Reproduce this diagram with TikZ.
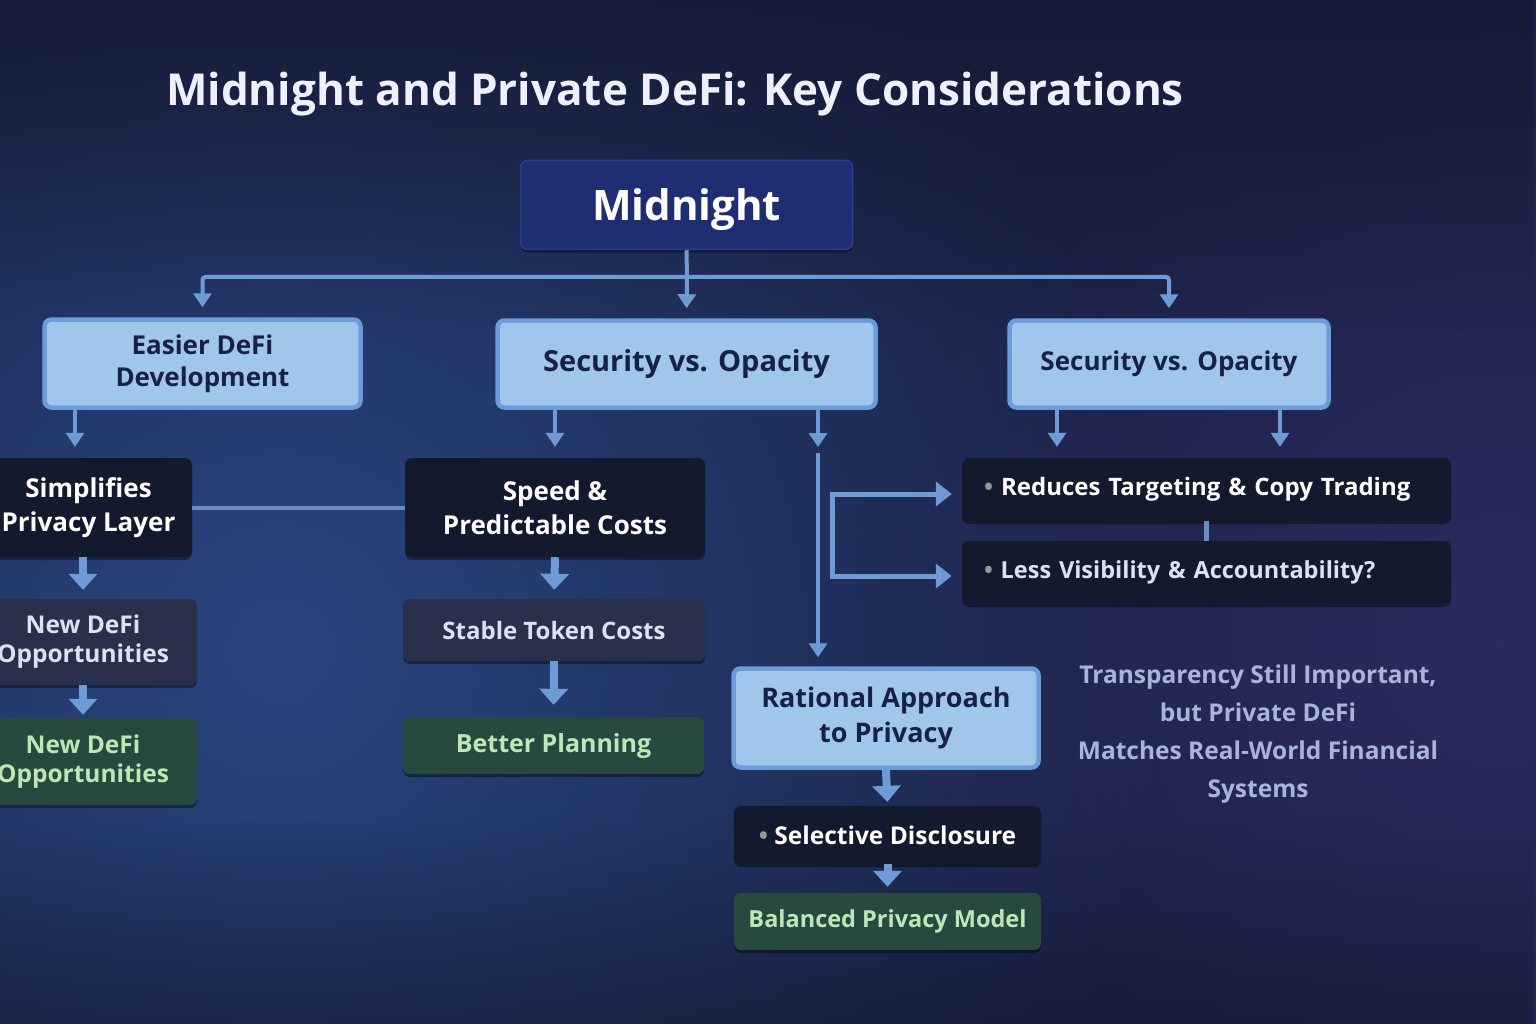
\documentclass[tikz,border=0pt]{standalone}
\usepackage{fontspec}
\setmainfont{Open Sans}
\usetikzlibrary{arrows.meta,shadows,fadings}
\definecolor{bgbase}{HTML}{1B2246}
\definecolor{bgblue}{HTML}{2A4A86}
\definecolor{bgpurple}{HTML}{2E2C64}
\definecolor{bgtop}{HTML}{151A34}
\definecolor{midfill}{HTML}{1F2D72}
\definecolor{middraw}{HTML}{2B3C8A}
\definecolor{lbfill}{HTML}{A0C6EC}
\definecolor{lbdraw}{HTML}{6C9DDA}
\definecolor{lbtext}{HTML}{16214A}
\definecolor{dkfill}{HTML}{141A2D}
\definecolor{gyfill}{HTML}{2A2F4C}
\definecolor{gytext}{HTML}{DCE1F3}
\definecolor{gnfill}{HTML}{294840}
\definecolor{gntext}{HTML}{BDE8B6}
\definecolor{arrcol}{HTML}{6E9AD5}
\definecolor{linecol}{HTML}{6A8CC2}
\definecolor{rtext}{HTML}{A9B4DA}
\definecolor{titlecol}{HTML}{EEF0FA}
\tikzfading[name=glowfade, inner color=transparent!0, outer color=transparent!100]
\tikzset{
  shad/.style={drop shadow={shadow xshift=0pt, shadow yshift=-3pt, opacity=0.4, fill=black}},
  boxbase/.style={rounded corners=7pt, align=center, inner sep=0pt},
  bluebox/.style={boxbase, fill=lbfill, draw=lbdraw, line width=4.5pt, text=lbtext},
  darkbox/.style={boxbase, fill=dkfill, text=white, shad},
  graybox/.style={boxbase, fill=gyfill, text=gytext, shad},
  greenbox/.style={boxbase, fill=gnfill, text=gntext, shad},
  conn/.style={draw=arrcol, line width=4pt},
  arr/.style={conn, -{Triangle[width=18pt,length=14pt]}},
  fatarr/.style={draw=arrcol, line width=8pt, -{Triangle[width=28pt,length=16pt]}},
  fs/.style={font=\bfseries\fontsize{#1}{\fpeval{#1*1.3}}\selectfont},
}
\begin{document}
\begin{tikzpicture}[x=1pt,y=-1pt]
\useasboundingbox (0,0) rectangle (1536,1024);
% background
\fill[bgbase] (0,0) rectangle (1536,1024);
\begin{scope}
\clip (0,0) rectangle (1536,1024);
\fill[bgblue, path fading=glowfade, fill opacity=0.9] (280,650) circle (900);
\fill[bgpurple, path fading=glowfade, fill opacity=0.9] (1500,640) circle (650);
\fill[bgtop, path fading=south, fill opacity=0.85] (0,-10) rectangle (1536,330);
\fill[bgtop, path fading=north, fill opacity=0.6] (0,820) rectangle (1536,1034);
\end{scope}

% title
\node[anchor=base west, text=titlecol, font=\bfseries\fontsize{44}{52}\selectfont, inner sep=0pt] (title) at (166,106) {Midnight and Private DeFi: Key Considerations};

% root
\node[boxbase, fill=midfill, draw=middraw, line width=1.5pt, text=white, minimum width=332pt, minimum height=89pt, font=\bfseries\fontsize{42}{50}\selectfont, shad, text depth=-4pt] (mid) at (686.5,205) {Midnight};

% level 1
\node[bluebox, minimum width=316pt, minimum height=88pt, fs=26] (ease) at (202.5,363.5) {Easier DeFi\\[-2pt]Development};
\node[bluebox, minimum width=378pt, minimum height=87pt, fs=29] (secB) at (686.5,364) {Security vs. Opacity};
\node[bluebox, minimum width=319pt, minimum height=87pt, fs=26] (secC) at (1169,364) {Security vs. Opacity};

% left column
\node[darkbox, minimum width=207pt, minimum height=99pt, fs=26] (simp) at (88.5,507.5) {Simplifies\\Privacy Layer};
\node[graybox, minimum width=228pt, minimum height=86pt, fs=24.5] (opp1) at (83,642) {New DeFi\\[-3pt]Opportunities};
\node[greenbox, minimum width=228pt, minimum height=87pt, fs=24.5] (opp2) at (83,761.5) {New DeFi\\[-3pt]Opportunities};

% middle column
\node[darkbox, minimum width=300pt, minimum height=99pt, fs=26] (speed) at (555,507.5) {Speed \&\\Predictable Costs};
\node[graybox, minimum width=302pt, minimum height=62pt, fs=24] (stable) at (554,630) {Stable Token Costs};
\node[greenbox, minimum width=301pt, minimum height=57pt, fs=25] (plan) at (553.5,745.5) {Better Planning};

% right column
\node[darkbox, minimum width=489pt, minimum height=63pt, text width=445pt, align=left, fs=24] (reduce) at (1206.5,489.5) {{\color{gray!80}\textbullet}\ Reduces Targeting \& Copy Trading};
\node[darkbox, minimum width=489pt, minimum height=63pt, text width=445pt, align=left, text=gytext, fs=23.5] (less) at (1206.5,572.5) {{\color{gray!80}\textbullet}\ Less Visibility \& Accountability?};

\node[bluebox, minimum width=305pt, minimum height=99pt, fs=27] (rat) at (886,718) {Rational Approach\\to Privacy};
\node[darkbox, minimum width=307pt, minimum height=58pt, fs=24.5] (sel) at (887.5,835) {{\color{gray!80}\textbullet}\ Selective Disclosure};
\node[greenbox, minimum width=307pt, minimum height=57pt, fs=23.5] (bal) at (887.5,921.5) {Balanced Privacy Model};

\node[text=rtext, align=center, anchor=north, font=\bfseries\fontsize{24.5}{38}\selectfont] (note) at (1258,661) {Transparency Still Important,\\but Private DeFi\\Matches Real-World Financial\\Systems};

% coordinates
\coordinate (hub) at (687,277);
\coordinate (xa) at (75,0);
\coordinate (xb) at (555,0);
\coordinate (xr) at (818,0);
\coordinate (xc1) at (1057,0);
\coordinate (xc2) at (1280,0);
\coordinate (xl) at (83,0);
\coordinate (g1) at (818,447);
\coordinate (g2) at (818,453);
\coordinate (brk) at (832,533);
\coordinate (ya) at (0,494);
\coordinate (yb) at (0,576);

% connectors from root
\draw[conn] (mid.south) -- (hub);
\draw[arr, shorten >=10pt] (hub) -- (secB.north);
\draw[arr, shorten >=10pt, rounded corners=3pt] (hub) -| (ease.north);
\draw[arr, shorten >=10pt, rounded corners=3pt] (hub) -| (secC.north);

% level 1 to level 2
\draw[arr, shorten >=11pt] (ease.south -| xa) -- (simp.north -| xa);
\draw[arr, shorten >=11pt] (secB.south -| xb) -- (speed.north -| xb);
\draw[arr] (secB.south -| xr) -- (g1);
\draw[arr, shorten >=9pt] (g2) -- (rat.north -| xr);
\draw[arr, shorten >=11pt] (secC.south -| xc1) -- (reduce.north -| xc1);
\draw[arr, shorten >=11pt] (secC.south -| xc2) -- (reduce.north -| xc2);

% horizontal link
\draw[draw=linecol, line width=4pt] (simp.east) -- (speed.west);

% left chain
\draw[fatarr, shorten >=9pt] (simp.south -| xl) -- (opp1.north -| xl);
\draw[fatarr, shorten >=3pt] (opp1.south -| xl) -- (opp2.north -| xl);

% middle chain
\draw[fatarr, shorten >=9pt] (speed.south) -- (stable.north);
\draw[fatarr, shorten >=12pt] (stable.south) -- (plan.north);

% bracket
\draw[draw=arrcol, line width=5pt, {Triangle[width=24pt,length=16pt]}-{Triangle[width=24pt,length=16pt]}, shorten <=10pt, shorten >=10pt] (reduce.west |- ya) -| (brk) |- (less.west |- yb);
\draw[draw=linecol, line width=5pt] (reduce.south) -- (less.north);

% bottom chain
\draw[fatarr, shorten >=4pt] (rat.south) -- (sel.north);
\draw[fatarr, shorten >=6pt] (sel.south) -- (bal.north);
\end{tikzpicture}
\end{document}
